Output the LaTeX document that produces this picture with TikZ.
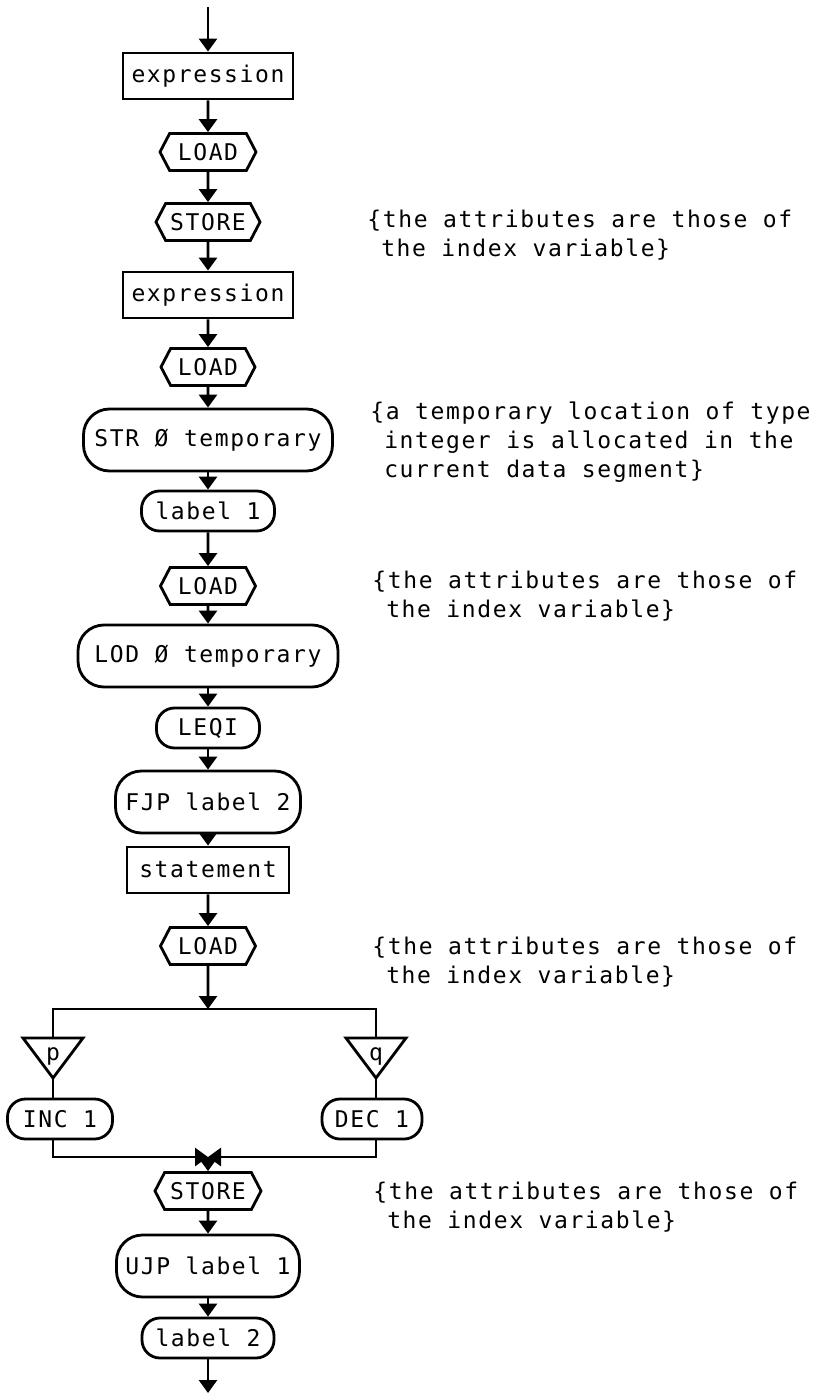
\documentclass[tikz,border=0pt]{standalone}
\usepackage{fontspec}
\setmainfont{DejaVu Sans Mono}[LetterSpace=7]
\usetikzlibrary{shapes.symbols, arrows.meta, calc}
\newcommand{\plt}{\fontsize{11.5}{14.5}\selectfont}
\tikzset{
  bloque/.style={rectangle, draw, line width=1.4pt, minimum width=85pt, minimum height=23pt,
                 inner sep=1pt, font=\plt},
  carga/.style={signal, signal to=east and west, signal pointer angle=125, draw, line width=1.4pt,
                minimum height=18.5pt, inner xsep=2pt, inner ysep=1pt, font=\plt},
  instr/.style={rectangle, rounded corners=13pt, draw, line width=1.4pt, minimum height=31pt,
                inner sep=1pt, font=\plt},
  instrc/.style={rectangle, rounded corners=9pt, draw, line width=1.4pt, minimum height=20pt,
                 inner sep=1pt, font=\plt},
  trian/.style={inner sep=0pt, font=\plt},
  nota/.style={anchor=west, align=left, inner sep=0pt, font=\plt},
  arrow/.style={line width=1.4pt, ->, >={Triangle[width=9pt,length=6.5pt]}},
  linea/.style={line width=1.4pt}
}
\begin{document}
\begin{tikzpicture}[x=0.5pt, y=-0.5pt]
  \useasboundingbox (0,0) rectangle (835,1395);
  % columna principal
  \coordinate (ini) at (208,7);
  \node (expr1) [bloque] at (208,76) {expression};
  \node (load1) [carga, minimum width=48pt] at (208,152) {LOAD};
  \node (store1) [carga, minimum width=52pt] at (208,222) {STORE};
  \node (expr2) [bloque] at (208,295) {expression};
  \node (load2) [carga, minimum width=47pt] at (208,367) {LOAD};
  \node (str) [instr, minimum width=124.5pt] at (208,440) {STR Ø temporary};
  \node (lab1) [instrc, minimum width=66.5pt] at (208,511) {label 1};
  \node (load3) [carga, minimum width=47.5pt] at (208,586) {LOAD};
  \node (lod) [instr, minimum width=130pt] at (208,656) {LOD Ø temporary};
  \node (leqi) [instrc, minimum width=51.5pt] at (208,728) {LEQI};
  \node (fjp) [instr, minimum width=92.5pt] at (208,802) {FJP label 2};
  \node (stmt) [bloque, minimum width=81pt] at (208,870) {statement};
  \node (load4) [carga, minimum width=47.5pt] at (208,946) {LOAD};
  \coordinate (split) at (208,1009);
  % ramas p y q
  \node (tp) [trian] at (53,1056) {p};
  \node (tq) [trian] at (376,1056) {q};
  \coordinate (tpt) at ($(tp)+(0,-18)$); \coordinate (tpa) at ($(tp)+(0,22)$);
  \coordinate (tqt) at ($(tq)+(0,-18)$); \coordinate (tqa) at ($(tq)+(0,22)$);
  \draw [linea] ($(tpt)+(-30,0)$) -- ($(tpt)+(30,0)$) -- (tpa) -- cycle;
  \draw [linea] ($(tqt)+(-30,0)$) -- ($(tqt)+(30,0)$) -- (tqa) -- cycle;
  \node (inc) [instrc, minimum width=52.5pt] at (60,1119) {INC 1};
  \node (dec) [instrc, minimum width=50pt] at (372,1119) {DEC 1};
  \coordinate (junta) at (208,1157);
  \node (store2) [carga, minimum width=53pt] at (208,1191) {STORE};
  \node (ujp) [instr, minimum width=91.5pt] at (208,1266) {UJP label 1};
  \node (lab2) [instrc, minimum width=66pt] at (208,1338) {label 2};
  \coordinate (fin) at (208,1393);
  % notas
  \node (n1) [nota] at (367,235) {\{the attributes are those of\\\hphantom{\{}the index variable\}};
  \node (n2) [nota] at (370,442) {\{a temporary location of type\\\hphantom{\{}integer is allocated in the\\\hphantom{\{}current data segment\}};
  \node (n3) [nota] at (372,596) {\{the attributes are those of\\\hphantom{\{}the index variable\}};
  \node (n4) [nota] at (372,962) {\{the attributes are those of\\\hphantom{\{}the index variable\}};
  \node (n5) [nota] at (373,1207) {\{the attributes are those of\\\hphantom{\{}the index variable\}};
  % flechas
  \draw [arrow] (ini) -- (expr1); \draw [arrow] (expr1) -- (load1);
  \draw [arrow] (load1) -- (store1); \draw [arrow] (store1) -- (expr2);
  \draw [arrow] (expr2) -- (load2); \draw [arrow] (load2) -- (str);
  \draw [arrow] (str) -- (lab1); \draw [arrow] (lab1) -- (load3);
  \draw [arrow] (load3) -- (lod); \draw [arrow] (lod) -- (leqi);
  \draw [arrow] (leqi) -- (fjp); \draw [arrow] (fjp) -- (stmt);
  \draw [arrow] (stmt) -- (load4); \draw [arrow] (load4) -- (split);
  \draw [linea] (tpt) |- (split) -| (tqt);
  \draw [linea] (tpa) -- (tpa |- inc.north);
  \draw [linea] (tqa) -- (tqa |- dec.north);
  \draw [arrow] (tpa |- inc.south) |- (junta);
  \draw [arrow] (tqa |- dec.south) |- (junta);
  \draw [arrow] (junta) -- (store2); \draw [arrow] (store2) -- (ujp);
  \draw [arrow] (ujp) -- (lab2); \draw [arrow] (lab2) -- (fin);
\end{tikzpicture}
\end{document}
